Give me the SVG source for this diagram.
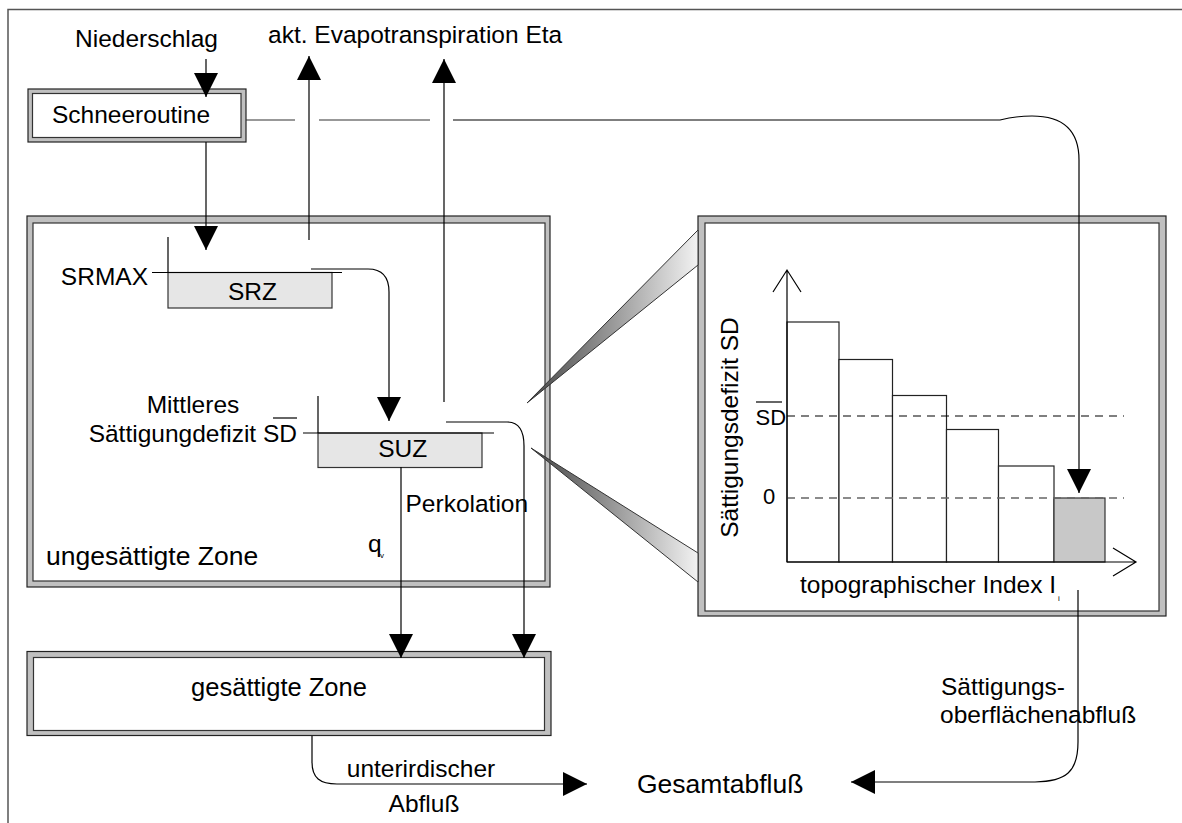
<svg xmlns="http://www.w3.org/2000/svg" width="1182" height="823" viewBox="0 0 1182 823">
<style>
text{font-family:"Liberation Sans",Arial,sans-serif;font-size:24.5px;fill:#000}
.big{font-size:25.5px}
.sm{font-size:22px}
.sub{font-size:8px}
.frame{fill:none;stroke:#555;stroke-width:1.5}
.outer{fill:#c0c0c0;stroke:#222;stroke-width:1.2}
.inner{fill:#fff;stroke:#333;stroke-width:1.2}
.store{fill:#e6e6e6;stroke:#333;stroke-width:1.2}
.bar{fill:#fff;stroke:#222;stroke-width:1.2}
.ln{fill:none;stroke:#000;stroke-width:1.2}
.gl{fill:none;stroke:#333;stroke-width:1.2}
.arr{fill:none;stroke:#000;stroke-width:1.2;marker-end:url(#ah)}
.dash{fill:none;stroke:#000;stroke-width:1.2;stroke-dasharray:8 6}
.dashg{fill:none;stroke:#666;stroke-width:1.4;stroke-dasharray:8 6}
.wedge{stroke:#333;stroke-width:1}
</style>
<defs>
<marker id="ah" viewBox="0 0 24 24" markerWidth="24" markerHeight="24" refX="24" refY="12" orient="auto" markerUnits="userSpaceOnUse">
<path d="M0,0 L24,12 L0,24 z" fill="#000"/>
</marker>
<linearGradient id="wg" x1="0" y1="0.5" x2="1" y2="0.5">
<stop offset="0" stop-color="#444"/>
<stop offset="0.5" stop-color="#999"/>
<stop offset="1" stop-color="#f2f2f2"/>
</linearGradient>
</defs>
<rect width="1182" height="823" fill="#fff"/>
<path class="frame" d="M8,823 V9.5 H1182"/>

<g id="schneeroutine">
<rect class="outer" x="28" y="89" width="218" height="53"/>
<rect class="inner" x="32.5" y="93.5" width="208.5" height="44"/>
<text x="52" y="123">Schneeroutine</text>
</g>

<g id="ungesaettigte-zone">
<rect class="outer" x="27" y="216" width="523" height="371"/>
<rect class="inner" x="33" y="223" width="512" height="358"/>
<text x="46" y="565" style="font-size:26.5px">ungesättigte Zone</text>
</g>

<g id="srz">
<rect class="store" x="168" y="272.5" width="164" height="35.5"/>
<path class="ln" d="M152,272.5 H342 M168,237 V272.5"/>
<text x="252.5" y="300" text-anchor="middle">SRZ</text>
<text x="148" y="284.5" text-anchor="end">SRMAX</text>
</g>

<g id="suz">
<rect class="store" x="318" y="433" width="164" height="34.5"/>
<path class="ln" d="M303,433 H494 M318,396 V433"/>
<text x="402.7" y="457" text-anchor="middle">SUZ</text>
<text x="193" y="413" text-anchor="middle">Mittleres</text>
<text x="297" y="441.5" text-anchor="end">Sättigungdefizit SD</text>
<path class="ln" d="M273,418 H297"/>
</g>

<g id="gesaettigte-zone">
<rect class="outer" x="27" y="651.5" width="524" height="84"/>
<rect class="inner" x="33.5" y="657.5" width="511" height="73"/>
<text class="big" x="279" y="696" text-anchor="middle">gesättigte Zone</text>
</g>

<g id="topographie">
<rect class="outer" x="698" y="216" width="468" height="400"/>
<rect class="inner" x="705" y="223" width="454" height="388"/>
<rect class="bar" x="787" y="322" width="52" height="240"/>
<rect class="bar" x="839" y="359.5" width="53.5" height="202.5"/>
<rect class="bar" x="892.5" y="395.5" width="54" height="166.5"/>
<rect class="bar" x="946.5" y="429.5" width="52" height="132.5"/>
<rect class="bar" x="998.5" y="466" width="55.5" height="96"/>
<rect x="1054" y="498" width="51" height="64" fill="#c8c8c8" stroke="#333" stroke-width="1.2"/>
<path class="dash" d="M787,416 H1124"/>
<path class="dashg" d="M787,498 H1124"/>
<path class="ln" d="M787,562 V270 M773,292 L787,270 L801,292 M787,562 H1136 M1113,548 L1136,562 L1113,576"/>
<text class="sm" x="755.5" y="425">SD</text>
<path class="ln" d="M756,402 H782"/>
<text class="sm" x="763" y="503.5">0</text>
<text transform="translate(738,427.5) rotate(-90)" text-anchor="middle">Sättigungsdefizit SD</text>
<text x="800" y="593">topographischer Index I</text>
<text class="sub" x="1058" y="601">i</text>
</g>

<g id="zoom-wedges">
<polygon class="wedge" fill="url(#wg)" points="527,403 698,230 698,265"/>
<polygon class="wedge" fill="url(#wg)" points="531,448 698,553 698,582"/>
</g>

<g id="labels">
<text x="75" y="47">Niederschlag</text>
<text x="268" y="43">akt. Evapotranspiration Eta</text>
<text x="405.5" y="511.5">Perkolation</text>
<text x="368" y="551.5" font-size="24">q</text>
<text class="sub" x="380" y="558">v</text>
<text x="421" y="776.5" text-anchor="middle">unterirdischer</text>
<text x="424" y="811.5" text-anchor="middle">Abfluß</text>
<text x="637" y="792.5" style="font-size:26.5px">Gesamtabfluß</text>
<text x="941" y="695">Sättigungs-</text>
<text x="940" y="722.5">oberflächenabfluß</text>
</g>

<g id="connectors">
<path class="arr" d="M206,59 V97"/>
<path class="arr" d="M206,142 V250"/>
<path class="arr" d="M309,240 V56"/>
<path class="arr" d="M444,402 V59"/>
<path class="gl" d="M246,120 H295 M319,120 H430"/>
<path class="arr" d="M453,120 H1000 C1012,117 1020,116 1032,116 C1062,116 1079,130 1079,160 V493"/>
<path class="arr" d="M311,269 H368 C383,269 389,278 389,292 V421"/>
<path class="arr" d="M446,422 H507 C519,422 524,430 524,446 V658"/>
<path class="arr" d="M401,467 V658"/>
<path class="arr" d="M312,736 V762 C312,778 320,784 337,784 H587"/>
<path class="arr" d="M1078,590 V742 C1078,772 1066,781.5 1035,782 H851"/>
</g>
</svg>
